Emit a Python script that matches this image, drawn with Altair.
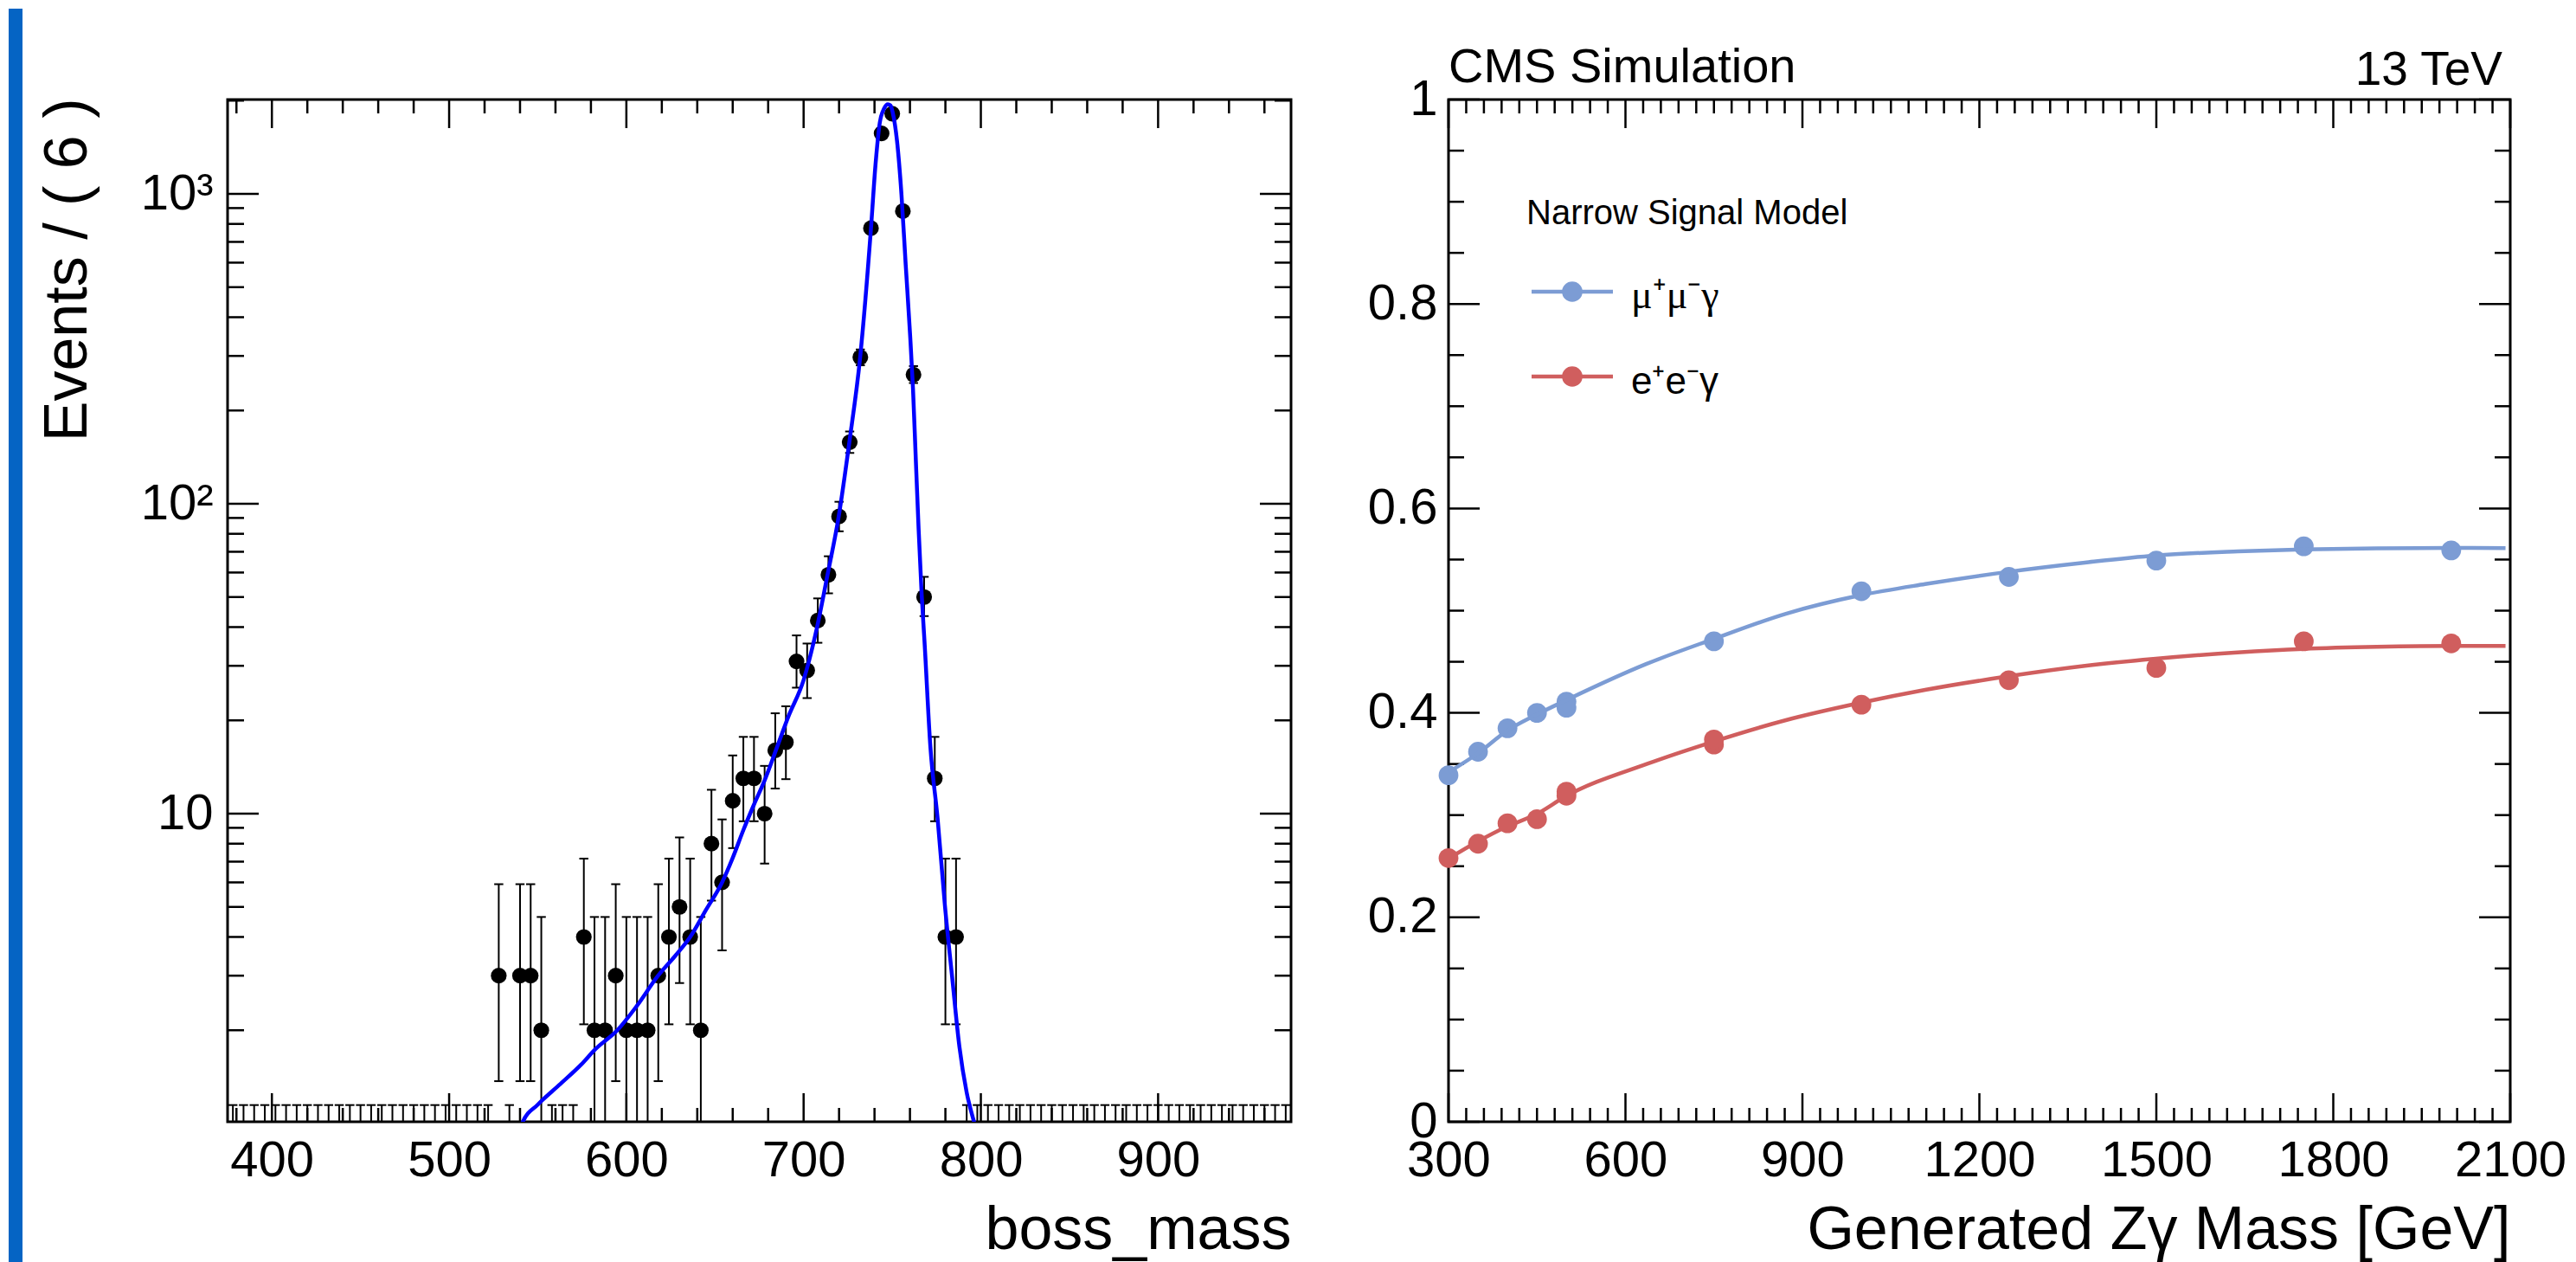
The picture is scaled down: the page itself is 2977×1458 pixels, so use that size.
import altair as alt
import pandas as pd

FONT = "Liberation Sans"

# ---------------- left panel: binned data (bin width 6, range 375-975) ----------------
bin_center = [528, 540, 546, 552, 576, 582, 588, 594, 600, 606, 612, 618, 624, 630, 636, 642,
              648, 654, 660, 666, 672, 678, 684, 690, 696, 702, 708, 714, 720, 726, 732, 738,
              744, 750, 756, 762, 768, 774, 780, 786]
counts = [3, 3, 3, 2, 4, 2, 2, 3, 2, 2, 2, 3, 4, 5, 4, 2,
          8, 6, 11, 13, 13, 10, 16, 17, 31, 29, 42, 59, 91, 158, 297, 775,
          1568, 1815, 880, 261, 50, 13, 4, 4]
err_lo = [1.37, 1.37, 1.37, 0.71, 2.09, 0.71, 0.71, 1.37, 0.71, 0.71, 0.71, 1.37, 2.09, 2.84, 2.09, 0.71,
          5.24, 3.62, 7.74, 9.45, 9.45, 6.90, 12.05, 12.92, 25.5, 23.6, 35.6, 51.4, 81.5, 145.9, 279.8, 747.7,
          1528.9, 1772.9, 850.8, 245.3, 43.4, 9.45, 2.09, 2.09]
err_hi = [5.92, 5.92, 5.92, 4.64, 7.16, 4.64, 4.64, 5.92, 4.64, 4.64, 4.64, 5.92, 7.16, 8.38, 7.16, 4.64,
          11.94, 9.58, 15.41, 17.69, 17.69, 14.26, 21.08, 22.2, 37.6, 35.4, 49.5, 67.7, 101.5, 171.1, 314.7, 803.3,
          1608.6, 1858.1, 910.2, 278.2, 58.1, 17.69, 7.16, 7.16]
zero_bins = [378, 384, 390, 396, 402, 408, 414, 420, 426, 432, 438, 444, 450, 456, 462, 468,
             474, 480, 486, 492, 498, 504, 510, 516, 522, 534, 558, 564, 570,
             792, 798, 804, 810, 816, 822, 828, 834, 840, 846, 852, 858, 864, 870, 876, 882,
             888, 894, 900, 906, 912, 918, 924, 930, 936, 942, 948, 954, 960, 966, 972]
zero_hi = [1.147] * len(zero_bins)
zero_lo = [0.5] * len(zero_bins)

# fitted signal shape
fit_x = [540, 541.5, 550, 562, 574.5, 582.6, 594.9, 606, 617.9, 628, 636, 645, 654, 660, 666,
         672, 678, 685.2, 691.3, 700, 707.6, 713.5, 719.8, 725.8, 731.9, 738, 740.6, 743, 745.5,
         747.5, 749, 750.3, 752.7, 755.2, 757.6, 760.1, 761.7, 763.3, 764.9, 766.6, 768.2, 771.5,
         775.6, 779.7, 783.8, 787.9, 792, 796.2, 797.5]
fit_y = [0.95, 1.01, 1.15, 1.33, 1.55, 1.74, 2.0, 2.4, 3.0, 3.5, 4.0, 4.9, 6.0, 7.2, 8.85,
         10.7, 12.8, 16.5, 20.5, 27, 40, 59, 91, 158, 297, 773, 1250, 1700, 1890,
         1945, 1930, 1828, 1482, 998, 591, 349, 236, 139, 82.5, 51, 36, 16.5,
         9.65, 5.07, 2.97, 1.77, 1.26, 1.01, 0.95]

# ---------------- right panel: efficiency vs generated mass ----------------
mass_mu = [300, 350, 400, 450, 500, 500, 750, 1000, 1250, 1500, 1750, 2000]
eff_mu = [0.339, 0.362, 0.385, 0.400, 0.405, 0.411, 0.470, 0.519, 0.533, 0.549, 0.563, 0.559]
mass_e = [300, 350, 400, 450, 500, 500, 750, 750, 1000, 1250, 1500, 1750, 2000]
eff_e = [0.258, 0.272, 0.292, 0.296, 0.319, 0.323, 0.369, 0.374, 0.408, 0.432, 0.444, 0.470, 0.468]

curve_mass = [300, 350, 398, 450, 498, 636, 748, 872, 998, 1108, 1249, 1379, 1499, 1638, 1749, 1874, 2000, 2092]
curve_mu = [0.342, 0.3605, 0.382, 0.3985, 0.412, 0.448, 0.472, 0.497, 0.515, 0.526, 0.538, 0.547,
            0.554, 0.558, 0.560, 0.561, 0.5614, 0.5612]
curve_e = [0.2574, 0.2743, 0.2885, 0.3012, 0.3181, 0.350, 0.3717, 0.3929, 0.4098, 0.4225, 0.4358,
           0.446, 0.453, 0.4592, 0.4626, 0.4646, 0.4654, 0.4654]

series_names = ["\u03bc\u207a\u03bc\u207b\u03b3", "e\u207ae\u207b\u03b3"]
legend_header = ["Narrow Signal Model"]
cms_label = ["CMS Simulation"]
energy_label = ["13 TeV"]

MU_COLOR = "#7c9cd4"
E_COLOR = "#d05e5e"

# tick positions
lx_major = [400, 500, 600, 700, 800, 900]
lx_minor = [v for v in range(380, 975, 20) if v % 100 != 0]
ly_major = [10, 100, 1000]
ly_minor = [m * d for d in (1, 10, 100) for m in range(2, 10)] + [2000]
rx_major = list(range(300, 2101, 300))
rx_minor = [v for v in range(330, 2100, 30) if v % 300 != 0]
ry_major = [0, 0.2, 0.4, 0.6, 0.8, 1.0]
ry_minor = [round(0.05 * i, 2) for i in range(1, 20) if i % 4 != 0]

W1, H1 = 1229, 1181
W2, H2 = 1227, 1181
TITLE_Y = 146

# ---- scales and axes (the same axis object is used in every layer so they merge cleanly)
xs1 = alt.Scale(domain=[375, 975], nice=False, zero=False)
ys1 = alt.Scale(type="log", domain=[1.013, 2016], nice=False)
AX1 = alt.Axis(values=lx_major, format="d", labelPadding=16, labelFlush=False,
               labelOverlap=False, title="boss_mass", titleX=W1, titleY=TITLE_Y,
               titleAlign="right", titleBaseline="alphabetic")
AY1 = alt.Axis(values=ly_major,
               labelExpr="datum.value == 10 ? '10' : (datum.value == 100 ? '10\u00b2' : '10\u00b3')",
               labelPadding=17, labelOverlap=False, labelFlush=False,
               title="Events / ( 6 )", titleX=-164, titleY=-2, titleAngle=270,
               titleAlign="right", titleBaseline="alphabetic")

xs2 = alt.Scale(domain=[300, 2100], nice=False, zero=False)
ys2 = alt.Scale(domain=[0, 1], nice=False, zero=False)
AX2 = alt.Axis(values=rx_major, format="d", labelPadding=16, labelFlush=False,
               labelOverlap=False, title="Generated Z\u03b3 Mass [GeV]", titleX=W2,
               titleY=TITLE_Y, titleAlign="right", titleBaseline="alphabetic")
AY2 = alt.Axis(values=ry_major, format=".1~f", labelPadding=13, labelFlush=False,
               labelOverlap=False, title="")


def x_ticks(vals, scale, axis, L, H):
    df = pd.DataFrame({"v": vals})
    top = alt.Chart(df).mark_rule(color="black", strokeWidth=2.5).encode(
        x=alt.X("v:Q", scale=scale, axis=axis), y=alt.value(0), y2=alt.value(L))
    bot = alt.Chart(df).mark_rule(color="black", strokeWidth=2.5).encode(
        x=alt.X("v:Q", scale=scale, axis=axis), y=alt.value(H), y2=alt.value(H - L))
    return [top, bot]


def y_ticks(vals, scale, axis, L, W):
    df = pd.DataFrame({"v": vals})
    left = alt.Chart(df).mark_rule(color="black", strokeWidth=2.5).encode(
        y=alt.Y("v:Q", scale=scale, axis=axis), x=alt.value(0), x2=alt.value(L))
    right = alt.Chart(df).mark_rule(color="black", strokeWidth=2.5).encode(
        y=alt.Y("v:Q", scale=scale, axis=axis), x=alt.value(W), x2=alt.value(W - L))
    return [left, right]


# ================= LEFT PANEL =================
pts_df = pd.DataFrame({"x": bin_center, "n": counts, "lo": err_lo, "hi": err_hi})
zero_df = pd.DataFrame({"x": zero_bins, "lo": zero_lo, "hi": zero_hi})
fit_df = pd.DataFrame({"x": fit_x, "y": fit_y})

strip = alt.Chart(pd.DataFrame({"a": [0]})).mark_rect(color="#0564c4").encode(
    x=alt.value(-253), x2=alt.value(-237), y=alt.value(-105), y2=alt.value(1345))

X1 = lambda f: alt.X(f, scale=xs1, axis=AX1)
Y1 = lambda f: alt.Y(f, scale=ys1, axis=AY1)
CAP = dict(shape="M-1,0L1,0", size=110, strokeWidth=2, color="black", filled=False, opacity=1, clip=True)

bars = alt.Chart(pts_df).mark_rule(color="black", strokeWidth=2, clip=True).encode(
    x=X1("x:Q"), y=Y1("lo:Q"), y2="hi:Q")
cap_hi = alt.Chart(pts_df).mark_point(**CAP).encode(x=X1("x:Q"), y=Y1("hi:Q"))
cap_lo = alt.Chart(pts_df).mark_point(**CAP).encode(x=X1("x:Q"), y=Y1("lo:Q"))
zbars = alt.Chart(zero_df).mark_rule(color="black", strokeWidth=2, clip=True).encode(
    x=X1("x:Q"), y=Y1("lo:Q"), y2="hi:Q")
zcaps = alt.Chart(zero_df).mark_point(**CAP).encode(x=X1("x:Q"), y=Y1("hi:Q"))
points = alt.Chart(pts_df).mark_circle(color="black", size=330, opacity=1, clip=True).encode(
    x=X1("x:Q"), y=Y1("n:Q"))
fit_line = alt.Chart(fit_df).mark_line(color="#0000ff", strokeWidth=4.5, clip=True,
                                       interpolate="monotone").encode(x=X1("x:Q"), y=Y1("y:Q"))

left_layers = [points, strip]
left_layers += x_ticks(lx_major, xs1, AX1, 33, H1) + x_ticks(lx_minor, xs1, AX1, 16, H1)
left_layers += y_ticks(ly_major, ys1, AY1, 36, W1) + y_ticks(ly_minor, ys1, AY1, 19, W1)
left_layers += [zbars, zcaps, bars, cap_hi, cap_lo, fit_line]
left = alt.layer(*left_layers).properties(width=W1, height=H1)

# ================= RIGHT PANEL =================
mu_df = pd.DataFrame({"m": mass_mu, "eff": eff_mu})
e_df = pd.DataFrame({"m": mass_e, "eff": eff_e})
cmu_df = pd.DataFrame({"m": curve_mass, "eff": curve_mu})
ce_df = pd.DataFrame({"m": curve_mass, "eff": curve_e})

X2 = lambda f: alt.X(f, scale=xs2, axis=AX2)
Y2 = lambda f: alt.Y(f, scale=ys2, axis=AY2)

line_mu = alt.Chart(cmu_df).mark_line(color=MU_COLOR, strokeWidth=4.5, interpolate="monotone").encode(
    x=X2("m:Q"), y=Y2("eff:Q"))
line_e = alt.Chart(ce_df).mark_line(color=E_COLOR, strokeWidth=4.5, interpolate="monotone").encode(
    x=X2("m:Q"), y=Y2("eff:Q"))
dots_mu = alt.Chart(mu_df).mark_circle(color=MU_COLOR, size=520, opacity=1).encode(
    x=X2("m:Q"), y=Y2("eff:Q"))
dots_e = alt.Chart(e_df).mark_circle(color=E_COLOR, size=520, opacity=1).encode(
    x=X2("m:Q"), y=Y2("eff:Q"))

one = pd.DataFrame({"a": [0]})
leg_head = alt.Chart(pd.DataFrame({"t": legend_header})).mark_text(
    font=FONT, fontSize=40, align="left", baseline="alphabetic", color="black").encode(
    x=alt.value(90), y=alt.value(144), text="t:N")
leg_mu_line = alt.Chart(one).mark_rule(color=MU_COLOR, strokeWidth=4.5).encode(
    x=alt.value(96), x2=alt.value(190), y=alt.value(222))
leg_mu_dot = alt.Chart(one).mark_circle(color=MU_COLOR, size=560, opacity=1).encode(
    x=alt.value(143), y=alt.value(222))
leg_mu_txt = alt.Chart(pd.DataFrame({"t": [series_names[0]]})).mark_text(
    font="Liberation Serif", fontSize=46, align="left", baseline="alphabetic", color="black").encode(
    x=alt.value(211), y=alt.value(241), text="t:N")
leg_e_line = alt.Chart(one).mark_rule(color=E_COLOR, strokeWidth=4.5).encode(
    x=alt.value(96), x2=alt.value(190), y=alt.value(320))
leg_e_dot = alt.Chart(one).mark_circle(color=E_COLOR, size=560, opacity=1).encode(
    x=alt.value(143), y=alt.value(320))
leg_e_txt = alt.Chart(pd.DataFrame({"t": [series_names[1]]})).mark_text(
    font=FONT, fontSize=44, align="left", baseline="alphabetic", color="black").encode(
    x=alt.value(211), y=alt.value(340), text="t:N")

cms = alt.Chart(pd.DataFrame({"t": cms_label})).mark_text(
    font=FONT, fontSize=56, align="left", baseline="alphabetic", color="black").encode(
    x=alt.value(0), y=alt.value(-20), text="t:N")
tev = alt.Chart(pd.DataFrame({"t": energy_label})).mark_text(
    font=FONT, fontSize=55, align="right", baseline="alphabetic", color="black").encode(
    x=alt.value(W2 - 9), y=alt.value(-17), text="t:N")

right_layers = [dots_mu]
right_layers += x_ticks(rx_major, xs2, AX2, 33, H2) + x_ticks(rx_minor, xs2, AX2, 16, H2)
right_layers += y_ticks(ry_major, ys2, AY2, 36, W2) + y_ticks(ry_minor, ys2, AY2, 18, W2)
right_layers += [line_mu, line_e, dots_e,
                 leg_head, leg_mu_line, leg_mu_dot, leg_mu_txt, leg_e_line, leg_e_dot, leg_e_txt,
                 cms, tev]
right = alt.layer(*right_layers).properties(width=W2, height=H2)

chart = alt.hconcat(left, right, spacing=182, bounds="flush").properties(
    padding=0, background="white"
).configure_view(
    stroke="black", strokeWidth=3
).configure_axis(
    labelFont=FONT, titleFont=FONT, labelFontSize=58, titleFontSize=70,
    labelColor="black", titleColor="black", titleFontWeight="normal",
    grid=False, domain=False, ticks=False, tickSize=0
)

chart.save("out.html", embed_options={"renderer": "svg", "actions": False})
